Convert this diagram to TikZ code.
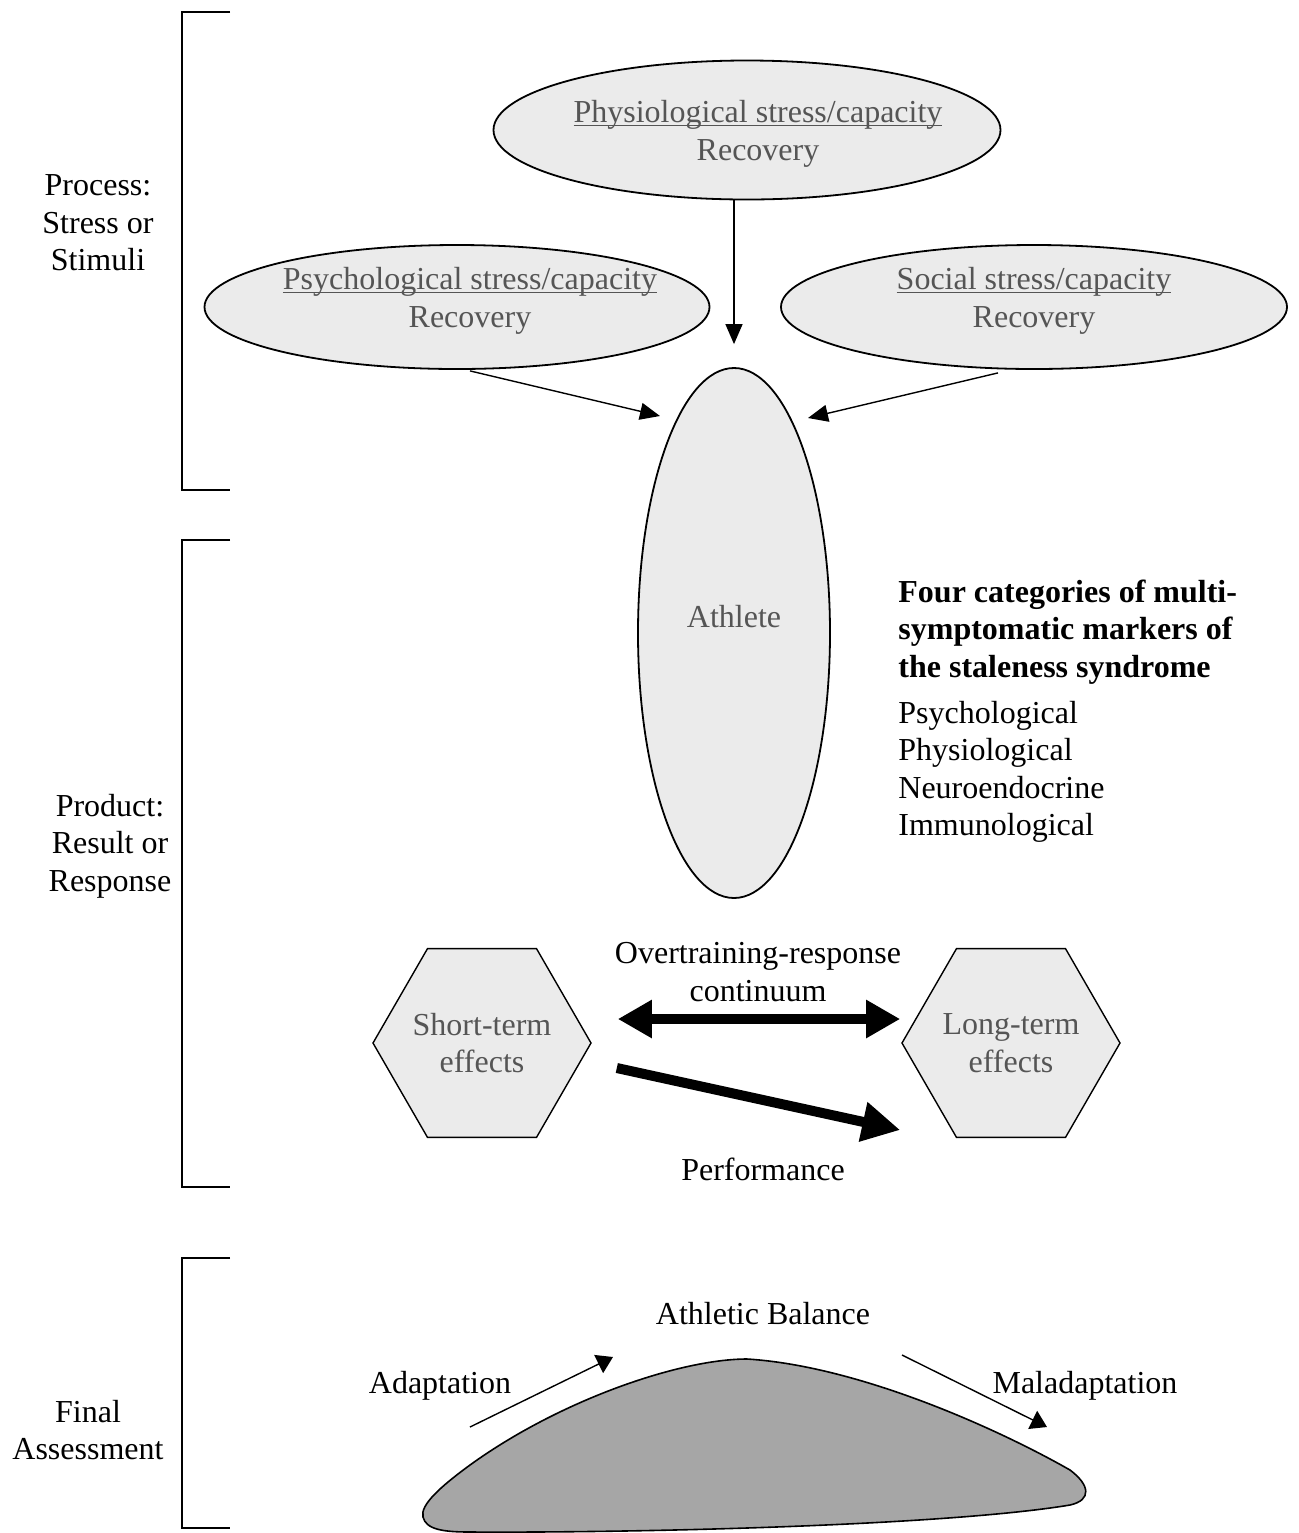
\documentclass[tikz,border=0pt]{standalone}
\usepackage{fontspec}
\setmainfont{Liberation Serif}
\usetikzlibrary{shapes.geometric,arrows.meta,calc}
\definecolor{shapefill}{RGB}{235,235,235}
\definecolor{shapetext}{RGB}{85,85,85}
\definecolor{blobfill}{RGB}{166,166,166}
% underline drawn at a fixed depth below the baseline
\newcommand\ulin[1]{\setbox0\hbox{#1}\rlap{\rule[-1.7pt]{\wd0}{0.8pt}}\box0}

\begin{document}
\begin{tikzpicture}[x=0.5pt,y=-0.5pt,
  every node/.style={font=\fontsize{16}{18.7}\selectfont, inner sep=0pt},
  oval/.style={ellipse, draw, line width=0.9pt, fill=shapefill, inner sep=0pt},
  hexa/.style={regular polygon, regular polygon sides=6, minimum size=109pt,
               draw, line width=0.7pt, fill=shapefill},
  intext/.style={text=shapetext, align=center},
  plain/.style={align=center},
  leftcol/.style={align=left},
  thinarrow/.style={-{Triangle[length=10pt,width=8.5pt]}, line width=0.7pt},
  smallarrow/.style={-{Triangle[length=8pt,width=10pt]}, line width=0.7pt},
  bigarrow/.style={-{Triangle[length=19pt,width=19pt]}, line width=5pt},
  bigdouble/.style={{Triangle[length=17pt,width=18pt]}-{Triangle[length=17pt,width=18pt]}, line width=5pt},
  bracket/.style={line width=1pt}
]
\fill[white] (0,0) rectangle (1298,1533);
\useasboundingbox (0,0) rectangle (1298,1533);

% section brackets and their labels
\draw[bracket] (230,12) -| (182,490) -- (230,490);
\draw[bracket] (230,540) -| (182,1187) -- (230,1187);
\draw[bracket] (230,1258) -| (182,1528) -- (230,1528);
\node[plain] (lblprocess) at (98,223) {Process:\\Stress or\\Stimuli};
\node[plain] (lblproduct) at (110,846) {Product:\\Result or\\Response};
\node[plain] (lblfinal) at (88,1430) {Final\\Assessment};

% stress / capacity sources
\node[oval, minimum width=253.5pt, minimum height=69.5pt] (physio) at (747,130) {};
\node[intext] (physiotext) at (758,134) {\ulin{Physiological stress/capacity}\\Recovery};
\node[oval, minimum width=252.5pt, minimum height=62pt] (psych) at (457,307) {};
\node[intext] (psychtext) at (470,301) {\ulin{Psychological stress/capacity}\\Recovery};
\node[oval, minimum width=253pt, minimum height=62pt] (social) at (1034,307) {};
\node[intext] (socialtext) at (1034,301) {\ulin{Social stress/capacity}\\Recovery};

% athlete
\node[oval, minimum width=96pt, minimum height=265pt] (athlete) at (734,633) {};
\node[intext] (athletetext) at (734,617) {Athlete};

\draw[thinarrow] (physio.south -| athlete.north) -- ($(athlete.north)+(0,-23)$);
\draw[thinarrow] ($(psych.south)+(13,1)$) -- ($(athlete.center)+(-74,-217)$);
\draw[thinarrow] ($(social.south)+(-36,3)$) -- ($(athlete.center)+(74,-215)$);

% marker categories
\node[leftcol, anchor=west, font=\fontsize{16}{18.7}\selectfont\bfseries] (cattitle) at (898,632)
  {Four categories of multi-\\symptomatic markers of\\the staleness syndrome};
\node[leftcol, anchor=west] (catlist) at (898,772)
  {Psychological\\Physiological\\Neuroendocrine\\Immunological};

% overtraining-response continuum
\node[hexa] (short) at (482,1043) {};
\node[intext] (shorttext) at (482,1043) {Short-term\\effects};
\node[hexa] (long) at (1011,1043) {};
\node[intext] (longtext) at (1011,1043) {Long-term\\effects};
\node[plain] (contlabel) at (758,972) {Overtraining-response\\continuum};
\node[plain] (perflabel) at (763,1169) {Performance};

\draw[bigdouble] ($(short.east)+(26,-24)$) -- ($(long.west)+(-1,-24)$);
\draw[bigarrow] ($(short.east)+(25,25)$) -- ($(long.west)+(-1,87)$);

% final assessment: athletic balance
\fill[blobfill, draw=black, line width=0.8pt] (747,1359)
  .. controls (680,1359) and (560,1400) .. (470,1465)
  .. controls (440,1487) and (420,1505) .. (423,1517)
  .. controls (426,1530) and (445,1532) .. (470,1532)
  .. controls (650,1533) and (950,1525) .. (1070,1505)
  .. controls (1092,1500) and (1090,1485) .. (1070,1470)
  .. controls (1000,1430) and (860,1366) .. (747,1359) -- cycle;
\node[plain] (ballabel) at (763,1314) {Athletic Balance};
\node[plain] (adaptlabel) at (440,1386) {Adaptation};
\node[plain] (maladaptlabel) at (1085,1386) {Maladaptation};
\coordinate (adaptfrom) at (470,1427);
\coordinate (adaptto) at (613,1357);
\coordinate (maladfrom) at (902,1355);
\coordinate (maladto) at (1047,1427);
\draw[smallarrow] (adaptfrom) -- (adaptto);
\draw[smallarrow] (maladfrom) -- (maladto);
\end{tikzpicture}
\end{document}
